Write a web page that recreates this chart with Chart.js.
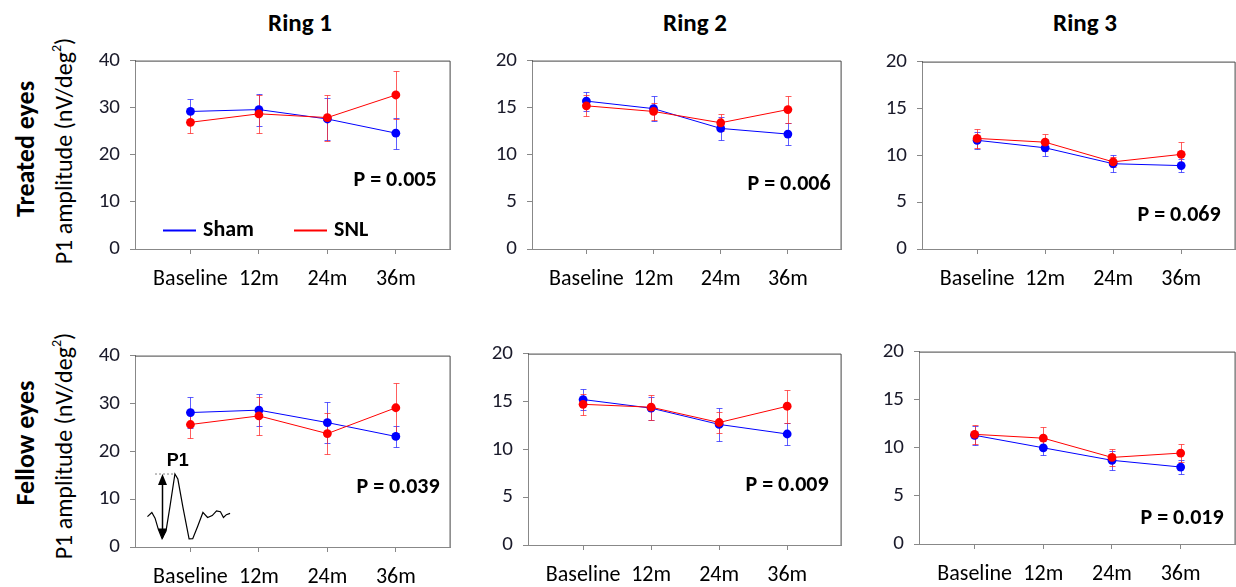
<!DOCTYPE html>
<html>
<head>
<meta charset="utf-8">
<script src="https://cdn.jsdelivr.net/npm/chart.js@4.4.0/dist/chart.umd.min.js"></script>
<style>
  body { margin: 0; width: 1236px; height: 587px; overflow: hidden; background: #fff;
         font-family: Carlito, Calibri, Lato, sans-serif; position: relative; }
  canvas { position: absolute; }
  .lbl { position: absolute; white-space: nowrap; color: #000; transform: translate(-50%, -50%); }
  .rot { transform: translate(-50%, -50%) rotate(-90deg); }
  .title { font-weight: bold; font-size: 25px; }
  .row { font-weight: bold; font-size: 26px; }
  .ytitle { font-size: 24px; line-height: 28px; }
  sup { font-size: 14px; vertical-align: 11px; line-height: 0; }
</style>
</head>
<body>
<div class="lbl title" style="left:300px;top:22px">Ring 1</div>
<div class="lbl title" style="left:695px;top:22px">Ring 2</div>
<div class="lbl title" style="left:1085px;top:22px">Ring 3</div>
<div class="lbl row rot" style="left:25px;top:149px">Treated eyes</div>
<div class="lbl row rot" style="left:25px;top:443px">Fellow eyes</div>
<div class="lbl ytitle rot" style="left:64px;top:151px">P1 amplitude (nV/deg<sup>2</sup>)</div>
<div class="lbl ytitle rot" style="left:64px;top:446px">P1 amplitude (nV/deg<sup>2</sup>)</div>

<script>
const categories = ['Baseline', '12m', '24m', '36m'];

// Treated eyes
const shamT1 = [29.2, 29.6, 27.6, 24.6];
const shamT1Err = [2.6, 3.4, 4.5, 3.3];
const snlT1 = [26.9, 28.7, 27.9, 32.7];
const snlT1Err = [2.2, 4.1, 4.9, 5.0];
const shamT2 = [15.7, 14.9, 12.8, 12.2];
const shamT2Err = [1.0, 1.3, 1.2, 1.15];
const snlT2 = [15.2, 14.6, 13.4, 14.8];
const snlT2Err = [1.1, 0.9, 0.9, 1.4];
const shamT3 = [11.6, 10.8, 9.1, 8.9];
const shamT3Err = [0.9, 0.9, 0.9, 0.7];
const snlT3 = [11.8, 11.4, 9.3, 10.1];
const snlT3Err = [1.0, 0.9, 0.5, 1.3];

// Fellow eyes
const shamF1 = [28.1, 28.6, 26.0, 23.1];
const shamF1Err = [3.3, 3.3, 4.2, 2.2];
const snlF1 = [25.6, 27.4, 23.7, 29.1];
const snlF1Err = [2.9, 4.0, 4.2, 5.2];
const shamF2 = [15.2, 14.3, 12.6, 11.6];
const shamF2Err = [1.1, 1.2, 1.7, 1.1];
const snlF2 = [14.7, 14.4, 12.8, 14.5];
const snlF2Err = [1.1, 1.3, 1.05, 1.7];
const shamF3 = [11.3, 10.0, 8.7, 8.0];
const shamF3Err = [1.0, 0.7, 1.0, 0.7];
const snlF3 = [11.4, 11.0, 9.0, 9.45];
const snlF3Err = [1.0, 1.2, 0.85, 0.9];

const pValues = ['0.005', '0.006', '0.069', '0.039', '0.009', '0.019'];
const yMaxes = [40, 20, 20, 40, 20, 20];
const yLabelSteps = [10, 5, 5, 10, 5, 5];

// P1 waveform sketch (inset, in the fellow ring 1 panel's units)
const waveX = [-0.628, -0.564, -0.517, -0.469, -0.415, -0.357, -0.300, -0.227, -0.184, -0.111, -0.020, 0.033, 0.106, 0.182, 0.250, 0.318, 0.381, 0.438, 0.482, 0.525, 0.579];
const waveY = [6.36, 7.22, 6.02, 3.69, 1.75, 3.35, 8.37, 15.25, 14.2, 8.37, 1.69, 1.75, 4.35, 7.22, 6.16, 6.56, 7.56, 7.36, 6.16, 6.76, 7.02];
const arrowX = -0.411, arrowLow = 1.55, arrowHigh = 15.25;

const FONT = 'Carlito, Calibri, Lato, sans-serif';
const BLUE = '#0000ff', RED = '#ff0000';
const Y_W = 60, X_H = 48, PAD_T = 14, PAD_R = 2;

// plot areas [left, right, top, bottom] and p-label offsets
const panels = [
  { area: [135, 453, 52, 249], sham: shamT1, shamErr: shamT1Err, snl: snlT1, snlErr: snlT1Err, pOff: [14, 120], legend: true },
  { area: [532, 844, 52, 249], sham: shamT2, shamErr: shamT2Err, snl: snlT2, snlErr: snlT2Err, pOff: [11, 124] },
  { area: [922, 1238, 53, 249], sham: shamT3, shamErr: shamT3Err, snl: snlT3, snlErr: snlT3Err, pOff: [15, 154] },
  { area: [135, 453, 347, 547], sham: shamF1, shamErr: shamF1Err, snl: snlF1, snlErr: snlF1Err, pOff: [11, 132], wave: true },
  { area: [528, 844, 345, 545], sham: shamF2, shamErr: shamF2Err, snl: snlF2, snlErr: snlF2Err, pOff: [13, 132] },
  { area: [919, 1238, 343, 544], sham: shamF3, shamErr: shamF3Err, snl: snlF3, snlErr: snlF3Err, pOff: [12, 167] }
];

const errorBars = {
  id: 'errorBars',
  beforeDatasetsDraw(chart) {
    const ctx = chart.ctx, xs = chart.scales.x, ys = chart.scales.y;
    chart.data.datasets.forEach(ds => {
      if (!ds.errors) return;
      ctx.save();
      ctx.strokeStyle = ds.errColor;
      ctx.lineWidth = 1;
      ds.data.forEach((pt, i) => {
        const x = Math.round(xs.getPixelForValue(pt.x)) + 0.5;
        const top = Math.round(ys.getPixelForValue(pt.y + ds.errors[i])) + 0.5;
        const bot = Math.round(ys.getPixelForValue(pt.y - ds.errors[i])) + 0.5;
        ctx.beginPath();
        ctx.moveTo(x, top); ctx.lineTo(x, bot);
        ctx.moveTo(x - 3, top); ctx.lineTo(x + 3, top);
        ctx.moveTo(x - 3, bot); ctx.lineTo(x + 3, bot);
        ctx.stroke();
      });
      ctx.restore();
    });
  }
};

const extras = {
  id: 'extras',
  afterDraw(chart, args, opts) {
    const ctx = chart.ctx, a = chart.chartArea;
    ctx.save();
    // top and right frame
    ctx.strokeStyle = '#444';
    ctx.lineWidth = 1;
    ctx.beginPath();
    ctx.moveTo(a.left, a.top + 0.5); ctx.lineTo(a.right - 0.5, a.top + 0.5); ctx.lineTo(a.right - 0.5, a.bottom);
    ctx.stroke();

    // p value
    ctx.fillStyle = '#000';
    ctx.font = 'bold 22px ' + FONT;
    ctx.textAlign = 'right';
    ctx.textBaseline = 'middle';
    ctx.fillText('P = ' + opts.p, a.right - opts.pOff[0], a.top + opts.pOff[1]);

    if (opts.legend) {
      chart.data.datasets.forEach((ds, i) => {
        const x0 = a.left + 28 + i * 131, y = a.top + 170;
        ctx.strokeStyle = ds.borderColor;
        ctx.lineWidth = 2;
        ctx.beginPath(); ctx.moveTo(x0, y); ctx.lineTo(x0 + 33, y); ctx.stroke();
        ctx.textAlign = 'left';
        ctx.fillText(ds.label, x0 + 40, y);
      });
    }

    if (opts.wave) {
      const xs = chart.scales.x, ys = chart.scales.y;
      ctx.strokeStyle = '#000';
      ctx.lineWidth = 1.2;
      ctx.beginPath();
      waveX.forEach((v, i) => {
        const px = xs.getPixelForValue(v), py = ys.getPixelForValue(waveY[i]);
        if (i === 0) ctx.moveTo(px, py); else ctx.lineTo(px, py);
      });
      ctx.stroke();
      const ax = Math.round(xs.getPixelForValue(arrowX)) + 0.5;
      const yt = ys.getPixelForValue(arrowHigh), yb = ys.getPixelForValue(arrowLow);
      ctx.lineWidth = 1.5;
      ctx.beginPath(); ctx.moveTo(ax, yt + 6); ctx.lineTo(ax, yb - 6); ctx.stroke();
      ctx.fillStyle = '#000';
      ctx.beginPath(); ctx.moveTo(ax, yt); ctx.lineTo(ax - 4.5, yt + 11); ctx.lineTo(ax + 4.5, yt + 11); ctx.closePath(); ctx.fill();
      ctx.beginPath(); ctx.moveTo(ax, yb); ctx.lineTo(ax - 4.5, yb - 11); ctx.lineTo(ax + 4.5, yb - 11); ctx.closePath(); ctx.fill();
      ctx.setLineDash([1, 3]);
      ctx.lineWidth = 1;
      ctx.beginPath(); ctx.moveTo(ax - 7, yt); ctx.lineTo(ax + 12, yt); ctx.stroke();
      ctx.setLineDash([]);
      ctx.font = 'bold 18px "Liberation Sans", Arial, sans-serif';
      ctx.textAlign = 'center';
      ctx.fillText('P1', xs.getPixelForValue(-0.184), ys.getPixelForValue(18.0));
    }
    ctx.restore();
  }
};

function series(label, values, errs, color, errColor, order) {
  return {
    label: label,
    data: values.map((v, i) => ({ x: i, y: v })),
    errors: errs,
    errColor: errColor,
    borderColor: color,
    backgroundColor: color,
    pointBackgroundColor: color,
    pointBorderColor: color,
    borderWidth: 1,
    pointRadius: 4.4,
    pointBorderWidth: 0,
    tension: 0,
    order: order
  };
}

panels.forEach((p, k) => {
  const w = Y_W + (p.area[1] - p.area[0]) + PAD_R;
  const h = PAD_T + (p.area[3] - p.area[2]) + X_H;
  const canvas = document.createElement('canvas');
  canvas.width = w; canvas.height = h;
  canvas.style.width = w + 'px'; canvas.style.height = h + 'px';
  canvas.style.left = (p.area[0] - Y_W) + 'px';
  canvas.style.top = (p.area[2] - PAD_T) + 'px';
  document.body.appendChild(canvas);

  const step = yLabelSteps[k];
  new Chart(canvas, {
    type: 'line',
    data: {
      datasets: [
        series('Sham', p.sham, p.shamErr, BLUE, 'rgba(40,40,255,0.75)', 1),
        series('SNL', p.snl, p.snlErr, RED, 'rgba(255,40,40,0.75)', 0)
      ]
    },
    options: {
      responsive: false,
      animation: false,
      events: [],
      layout: { padding: { top: PAD_T, right: PAD_R, left: 0, bottom: 0 } },
      plugins: {
        legend: { display: false },
        tooltip: { enabled: false },
        extras: { p: pValues[k], pOff: p.pOff, legend: !!p.legend, wave: !!p.wave }
      },
      scales: {
        x: {
          type: 'linear', min: -0.81, max: 3.8,
          afterBuildTicks: s => { s.ticks = categories.map((c, i) => ({ value: i })); },
          afterFit: s => { s.height = X_H; },
          ticks: { callback: v => categories[v], color: '#000', font: { family: FONT, size: 22 },
                   padding: 12, maxRotation: 0, autoSkip: false },
          grid: { display: true, drawOnChartArea: false, tickLength: 5, color: '#888' },
          border: { display: true, color: '#888' }
        },
        y: {
          type: 'linear', min: 0, max: yMaxes[k],
          afterBuildTicks: s => {
            const t = [];
            for (let v = 0; v <= yMaxes[k]; v += 5) t.push({ value: v });
            s.ticks = t;
          },
          afterFit: s => { s.width = Y_W; },
          ticks: { callback: v => (v % step === 0 ? String(v) : ''), color: '#1a1a2a',
                   font: { family: FONT, size: 21 }, padding: 10 },
          grid: { display: true, drawOnChartArea: false, tickLength: 5, color: '#888' },
          border: { display: true, color: '#888' }
        }
      }
    },
    plugins: [errorBars, extras]
  });
});
</script>
</body>
</html>
